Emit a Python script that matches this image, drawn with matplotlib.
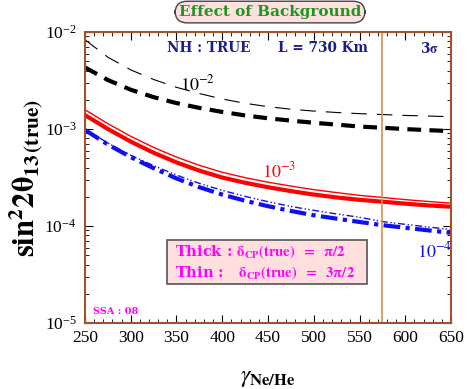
import matplotlib
matplotlib.use('Agg')
import matplotlib.pyplot as plt
from matplotlib.patches import Rectangle
from matplotlib.ticker import MultipleLocator, LogLocator, NullFormatter

plt.rcParams['font.family'] = 'Liberation Serif'
plt.rcParams['mathtext.fontset'] = 'stix'

# gamma values along the x axis
gamma = [250, 275, 300, 325, 350, 375, 400, 425, 450, 475, 500, 525, 550, 575, 600, 625, 650]

# sin^2 2theta13 sensitivity curves
black_thick = [4.31e-3, 3.20e-3, 2.54e-3, 2.13e-3, 1.85e-3, 1.65e-3, 1.50e-3, 1.38e-3, 1.29e-3,
               1.22e-3, 1.16e-3, 1.11e-3, 1.06e-3, 1.03e-3, 0.998e-3, 0.973e-3, 0.951e-3]
black_thin = [8.32e-3, 5.50e-3, 4.07e-3, 3.24e-3, 2.69e-3, 2.32e-3, 2.04e-3, 1.84e-3, 1.70e-3,
              1.60e-3, 1.53e-3, 1.48e-3, 1.44e-3, 1.41e-3, 1.38e-3, 1.36e-3, 1.34e-3]
red_thick = [1.39e-3, 1.00e-3, 7.41e-4, 5.69e-4, 4.52e-4, 3.72e-4, 3.16e-4, 2.79e-4, 2.51e-4,
             2.29e-4, 2.11e-4, 1.97e-4, 1.86e-4, 1.78e-4, 1.70e-4, 1.63e-4, 1.58e-4]
red_thin = [1.58e-3, 1.135e-3, 8.41e-4, 6.46e-4, 5.13e-4, 4.22e-4, 3.58e-4, 3.15e-4, 2.83e-4,
            2.58e-4, 2.37e-4, 2.21e-4, 2.07e-4, 1.97e-4, 1.87e-4, 1.79e-4, 1.72e-4]
blue_thick = [9.77e-4, 6.92e-4, 5.13e-4, 3.94e-4, 3.09e-4, 2.51e-4, 2.11e-4, 1.82e-4, 1.60e-4,
              1.43e-4, 1.29e-4, 1.19e-4, 1.10e-4, 1.02e-4, 9.59e-5, 9.02e-5, 8.51e-5]
blue_thin = [1.0e-3, 7.16e-4, 5.37e-4, 4.19e-4, 3.35e-4, 2.75e-4, 2.33e-4, 2.02e-4, 1.78e-4,
             1.59e-4, 1.45e-4, 1.33e-4, 1.23e-4, 1.11e-4, 1.04e-4, 9.77e-5, 9.2e-5]

gamma_line = 575

brown = '#a0522d'
navy = '#1c1c8a'
magenta = '#ff00ff'
blue = '#1010ee'

fig = plt.figure(figsize=(4.68, 3.89), dpi=100)
ax = fig.add_axes([0.1816, 0.1697, 0.7821, 0.748])

ax.plot(gamma, black_thin, color='black', lw=0.8, dashes=(14, 9))
ax.plot(gamma, black_thick, color='black', lw=3, dashes=(3.3, 2))
ax.plot(gamma, red_thin, color='red', lw=1.0)
ax.plot(gamma, red_thick, color='red', lw=3)
ax.plot(gamma, blue_thin, color=blue, lw=1.0, dashes=(5, 2, 1, 1.5, 1, 2))
ax.plot(gamma, blue_thick, color=blue, lw=3, dashes=(4, 1.3, 1, 1.3))
ax.axvline(gamma_line, color='#d99050', lw=1.2)

ax.set_yscale('log')
ax.set_xlim(250, 650)
ax.set_ylim(1e-5, 1e-2)
ax.xaxis.set_major_locator(MultipleLocator(50))
ax.xaxis.set_minor_locator(MultipleLocator(10))
ax.yaxis.set_minor_locator(LogLocator(base=10, subs=range(2, 10)))
ax.yaxis.set_minor_formatter(NullFormatter())
ax.tick_params(which='both', direction='in', top=True, right=True, labelsize=12.5)
ax.tick_params(axis='x', pad=5)
ax.tick_params(axis='y', pad=6)
ax.tick_params(which='major', length=6)
ax.tick_params(which='minor', length=3)
for s in ax.spines.values():
    s.set_color(brown)
    s.set_linewidth(1.5)

ax.set_xlabel(r'$\gamma_{\mathbf{Ne/He}}$', fontsize=17, labelpad=16)
ax.set_ylabel(r'$\mathbf{sin}^{\mathbf{2}}\mathbf{2\theta}_{\mathbf{13\,(true)}}$', fontsize=22, labelpad=0)

# curve labels
ax.text(354, 2.52e-3, r'$10^{-2}$', fontsize=13, color='black', ha='left', va='baseline')
ax.text(443, 3.2e-4, r'$10^{-3}$', fontsize=13, color='red', ha='left', va='baseline')
ax.text(613, 4.7e-5, r'$10^{-4}$', fontsize=13, color=blue, ha='left', va='baseline')

tkw = dict(transform=ax.transAxes, color=navy, fontsize=9.8, fontweight='bold',
           family='DejaVu Serif', va='center', ha='center')
ax.text(0.339, 0.945, 'NH : TRUE', **tkw)
ax.text(0.650, 0.945, 'L = 730 Km', **tkw)
ax.text(0.94, 0.945, r'3$\mathbf{\sigma}$', **tkw)

# legend box
ax.add_patch(Rectangle((0.224, 0.134), 0.546, 0.151, transform=ax.transAxes,
                       facecolor='#ffdede', edgecolor='#555555', lw=1.2, zorder=5))
lkw = dict(transform=ax.transAxes, color=magenta, fontsize=10.5, fontweight='bold',
           family='DejaVu Serif', va='center', ha='left', zorder=6)
ax.text(0.245, 0.245, r'Thick : $\mathbf{\delta_{CP}(true)\ \ =\ \ \pi/2}$', **lkw)
ax.text(0.245, 0.172, r'Thin :   $\mathbf{\delta_{CP}(true)\ \ =\ \ 3\pi/2}$', **lkw)

ax.text(0.022, 0.04, 'SSA : 08', transform=ax.transAxes, color=magenta, fontsize=7,
        fontweight='bold', family='DejaVu Serif', va='center', ha='left')

fig.text(0.577, 0.969, 'Effect of Background', color='#1e961e', fontsize=11,
         fontweight='bold', family='DejaVu Serif', ha='center', va='center',
         bbox=dict(boxstyle='round,pad=0.25,rounding_size=0.8', facecolor='#ffe0e0',
                   edgecolor='#444444', lw=1.0))

fig.savefig('out.png', dpi=100)
